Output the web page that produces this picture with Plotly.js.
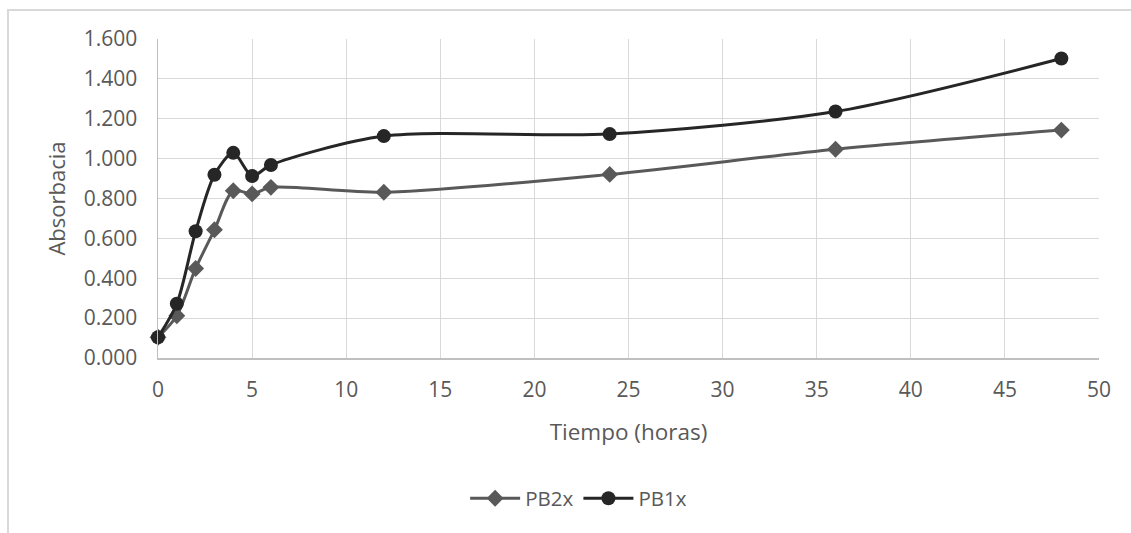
<!DOCTYPE html>
<html>
<head>
<meta charset="utf-8">
<script src="https://cdn.plot.ly/plotly-3.0.1.min.js"></script>
<style>
  html, body { margin: 0; padding: 0; background: #ffffff; }
  #wrap { position: relative; width: 1131px; height: 533px; overflow: hidden; }
  #frame { position: absolute; left: 7px; top: 9px; width: 1200px; height: 600px;
           border-left: 2px solid #d9d9d9; border-top: 2px solid #d9d9d9; pointer-events: none; }
  #chart { position: absolute; left: 0; top: 0; width: 1131px; height: 533px; }
</style>
</head>
<body>
<div id="wrap">
  <div id="chart"></div>
  <div id="frame"></div>
</div>
<script>
const tiempo = [0, 1, 2, 3, 4, 5, 6, 12, 24, 36, 48];
const pb2x = [0.104, 0.212, 0.449, 0.643, 0.839, 0.823, 0.856, 0.831, 0.921, 1.047, 1.143];
const pb1x = [0.104, 0.272, 0.636, 0.919, 1.029, 0.913, 0.968, 1.113, 1.123, 1.236, 1.502];
const seriesNames = ['PB2x', 'PB1x'];
const xTitle = 'Tiempo (horas)';
const yTitle = 'Absorbacia';

const fontFam = '"Open Sans", "Liberation Sans", sans-serif';
const textColor = '#595959';

const traces = [
  {
    x: tiempo, y: pb2x, name: seriesNames[0], type: 'scatter', mode: 'lines+markers',
    line: { color: '#595959', width: 3, shape: 'spline', smoothing: 0.8 },
    marker: { symbol: 'diamond', size: 13, color: '#595959' },
    cliponaxis: false
  },
  {
    x: tiempo, y: pb1x, name: seriesNames[1], type: 'scatter', mode: 'lines+markers',
    line: { color: '#262626', width: 3, shape: 'spline', smoothing: 0.8 },
    marker: { symbol: 'circle', size: 14, color: '#262626' },
    cliponaxis: false
  }
];

const layout = {
  width: 1131, height: 533,
  margin: { l: 158, r: 32, t: 39, b: 174.5, pad: 0 },
  paper_bgcolor: 'rgba(0,0,0,0)',
  plot_bgcolor: '#ffffff',
  font: { family: fontFam, size: 21, color: textColor },
  showlegend: true,
  legend: {
    orientation: 'h', x: 0.447, xanchor: 'center', y: -0.44, yanchor: 'middle',
    font: { family: fontFam, size: 20.5, color: textColor },
    traceorder: 'normal', itemwidth: 50
  },
  xaxis: {
    range: [0, 50], dtick: 5, tick0: 0,
    showgrid: true, gridcolor: '#d9d9d9', gridwidth: 1,
    showline: true, linecolor: '#bfbfbf', linewidth: 1.5,
    zeroline: false, ticks: '', ticklabelstandoff: 12,
    tickfont: { family: fontFam, size: 21, color: textColor },
    title: { text: xTitle, font: { family: fontFam, size: 22.5, color: textColor }, standoff: 22 }
  },
  yaxis: {
    range: [0, 1.6], dtick: 0.2, tick0: 0, tickformat: '.3f',
    showgrid: true, gridcolor: '#d9d9d9', gridwidth: 1,
    showline: true, linecolor: '#bfbfbf', linewidth: 1.5,
    zeroline: false, ticks: '', ticklabelstandoff: 15,
    tickfont: { family: fontFam, size: 21, color: textColor },
    title: { text: yTitle, font: { family: fontFam, size: 22, color: textColor }, standoff: 12 }
  }
};

Plotly.newPlot('chart', traces, layout, { displayModeBar: false, staticPlot: true });
</script>
</body>
</html>
